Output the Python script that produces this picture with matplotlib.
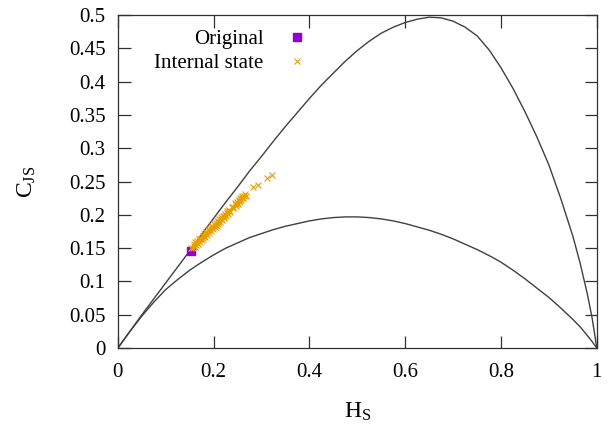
import matplotlib
matplotlib.use('Agg')
from matplotlib import pyplot as plt

plt.rcParams['font.family'] = ['Liberation Serif', 'DejaVu Serif']
plt.rcParams['mathtext.fontset'] = 'custom'
plt.rcParams['mathtext.rm'] = 'Liberation Serif'
plt.rcParams['mathtext.it'] = 'Liberation Serif:italic'

# Cotas del plano complejidad-entropia
h_cota = [0, 0.025, 0.05, 0.075, 0.1, 0.125, 0.15, 0.175, 0.2, 0.225,
          0.25, 0.275, 0.3, 0.325, 0.35, 0.375, 0.4, 0.425, 0.45, 0.475,
          0.5, 0.525, 0.55, 0.575, 0.6, 0.625, 0.65, 0.675, 0.7, 0.725,
          0.75, 0.775, 0.8, 0.825, 0.85, 0.875, 0.9, 0.925, 0.95, 0.965,
          0.98, 0.99, 1.0]
c_max = [0, 0.025, 0.05, 0.074, 0.098, 0.122, 0.146, 0.171, 0.195, 0.219,
         0.242, 0.266, 0.288, 0.311, 0.333, 0.354, 0.375, 0.395, 0.413,
         0.431, 0.447, 0.461, 0.473, 0.482, 0.489, 0.494, 0.497, 0.496,
         0.491, 0.482, 0.469, 0.448, 0.421, 0.390, 0.355, 0.317, 0.275,
         0.224, 0.168, 0.128, 0.082, 0.046, 0]
c_min = [0, 0.025, 0.048, 0.069, 0.088, 0.103, 0.117, 0.129, 0.140, 0.150,
         0.158, 0.166, 0.172, 0.178, 0.183, 0.187, 0.191, 0.194, 0.196,
         0.197, 0.197, 0.196, 0.194, 0.191, 0.187, 0.182, 0.177, 0.171,
         0.164, 0.156, 0.148, 0.139, 0.129, 0.117, 0.104, 0.090, 0.076,
         0.060, 0.043, 0.032, 0.019, 0.010, 0]

# Serie original
h_orig = [0.152]
c_orig = [0.146]

# Estados internos
h_int = [0.153, 0.156, 0.158, 0.160, 0.162, 0.163, 0.165, 0.167, 0.169,
         0.171, 0.173, 0.175, 0.177, 0.178, 0.180, 0.182, 0.184, 0.186,
         0.188, 0.190, 0.192, 0.194, 0.196, 0.198, 0.200, 0.202, 0.204,
         0.206, 0.208, 0.210, 0.212, 0.214, 0.216, 0.218, 0.220, 0.222,
         0.224, 0.226, 0.228, 0.230, 0.232, 0.235, 0.238, 0.241, 0.244,
         0.246, 0.248, 0.250, 0.252, 0.254, 0.256, 0.258, 0.260, 0.262,
         0.265, 0.268, 0.282, 0.292, 0.311, 0.322,
         0.159, 0.166, 0.172, 0.179, 0.185, 0.191, 0.197, 0.203, 0.209,
         0.215, 0.221, 0.227, 0.233, 0.240, 0.247, 0.253, 0.259, 0.264]
c_int = [0.151, 0.150, 0.156, 0.152, 0.159, 0.155, 0.161, 0.157, 0.164,
         0.160, 0.166, 0.162, 0.169, 0.165, 0.171, 0.167, 0.174, 0.170,
         0.177, 0.173, 0.180, 0.176, 0.183, 0.179, 0.186, 0.182, 0.188,
         0.184, 0.191, 0.187, 0.194, 0.190, 0.197, 0.193, 0.199, 0.196,
         0.202, 0.199, 0.206, 0.202, 0.208, 0.205, 0.212, 0.210, 0.218,
         0.214, 0.220, 0.217, 0.223, 0.219, 0.226, 0.222, 0.228, 0.225,
         0.232, 0.229, 0.242, 0.245, 0.255, 0.260,
         0.154, 0.158, 0.164, 0.168, 0.172, 0.177, 0.181, 0.185, 0.190,
         0.194, 0.198, 0.203, 0.206, 0.212, 0.216, 0.221, 0.225, 0.228]

xticks = [0, 0.2, 0.4, 0.6, 0.8, 1]
xlabels = ['0', '0.2', '0.4', '0.6', '0.8', '1']
yticks = [0, 0.05, 0.1, 0.15, 0.2, 0.25, 0.3, 0.35, 0.4, 0.45, 0.5]
ylabels = ['0', '0.05', '0.1', '0.15', '0.2', '0.25', '0.3', '0.35',
           '0.4', '0.45', '0.5']

fig = plt.figure(figsize=(6.14, 4.34), dpi=100)
ax = fig.add_axes([0.192, 0.198, 0.780, 0.767])

ax.plot(h_cota, c_max, color='#404040', lw=1.0)
ax.plot(h_cota, c_min, color='#404040', lw=1.0)

ax.plot(h_orig, c_orig, linestyle='None', marker='s', color='#9400D3',
        ms=6, label='Original')
ax.plot(h_int, c_int, linestyle='None', marker='x', color='#E69F00',
        ms=4.2, mew=0.8, label='Internal state')

ax.legend(loc='upper left', bbox_to_anchor=(0.045, 1.0),
          markerfirst=False, frameon=False, fontsize=15,
          handlelength=1.0, handletextpad=1.1, labelspacing=0.2,
          borderaxespad=0.3)

ax.set_xlim(0, 1)
ax.set_ylim(0, 0.5)
ax.set_xticks(xticks)
ax.set_xticklabels(xlabels)
ax.set_yticks(yticks)
ax.set_yticklabels(ylabels)
ax.tick_params(direction='in', length=9, width=0.9, top=True, right=True,
               labelsize=15, color='#303030')
ax.tick_params(axis='x', pad=11)
ax.tick_params(axis='y', pad=9)
for s in ax.spines.values():
    s.set_color('#303030')
    s.set_linewidth(0.9)

ax.set_xlabel(r'$\mathrm{H_S}$', fontsize=17, labelpad=13)
ax.set_ylabel(r'$\mathrm{C_{JS}}$', fontsize=17, labelpad=22)

fig.savefig('out.png', dpi=100)
